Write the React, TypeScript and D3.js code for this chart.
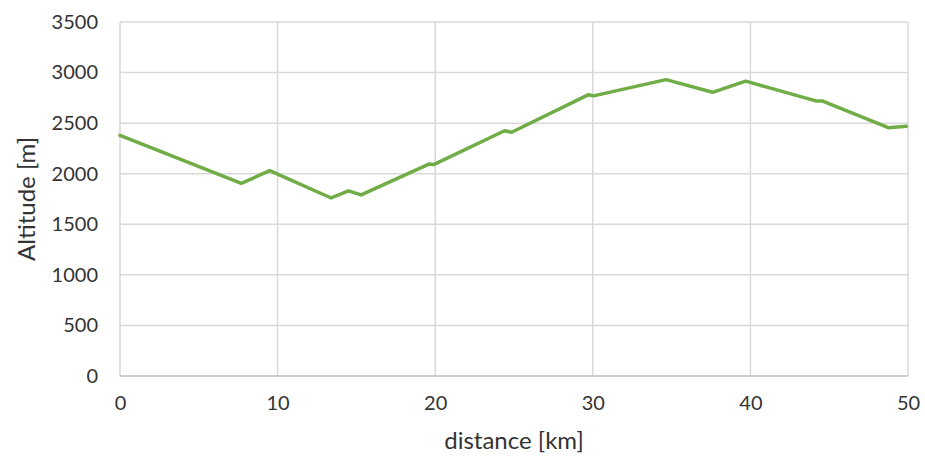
// Altitude profile — distance vs altitude, single green line over a light grid.
import { useEffect, useRef } from "react";
import * as d3 from "d3";

// track points
const DIST_KM = [0, 7.7, 9.5, 13.4, 14.5, 15.3, 19.6, 19.9, 24.4, 24.85, 29.7, 30.05, 34.65, 37.6, 39.7, 44.15, 44.55, 48.75, 49.9];
const ALT_M = [2380, 1905, 2030, 1760, 1830, 1790, 2095, 2090, 2425, 2410, 2780, 2770, 2930, 2805, 2915, 2720, 2720, 2455, 2470];

const X_TICKS = [0, 10, 20, 30, 40, 50];
const Y_TICKS = [0, 500, 1000, 1500, 2000, 2500, 3000, 3500];

const X_LABEL = "distance [km]";
const Y_LABEL = "Altitude [m]";

const W = 925;
const H = 460;
const margin = { top: 22, right: 17, bottom: 84, left: 120 };
const FONT = "Lato, 'Open Sans', sans-serif";
const INK = "#333";

export default function App() {
  const ref = useRef<SVGSVGElement>(null);

  useEffect(() => {
    const el = ref.current;
    if (!el) return;
    const svg = d3.select(el);
    svg.selectAll("*").remove();

    const innerW = W - margin.left - margin.right;
    const innerH = H - margin.top - margin.bottom;

    const x = d3.scaleLinear().domain([0, 50]).range([0, innerW]);
    const y = d3.scaleLinear().domain([0, 3500]).range([innerH, 0]);

    const g = svg.append("g").attr("transform", `translate(${margin.left},${margin.top})`);

    // grid
    g.append("g")
      .selectAll("line")
      .data(Y_TICKS.filter((t) => t > 0))
      .join("line")
      .attr("x1", 0)
      .attr("x2", innerW)
      .attr("y1", (d) => y(d))
      .attr("y2", (d) => y(d))
      .attr("stroke", "#d9d9d9")
      .attr("stroke-width", 1.5);
    g.append("g")
      .selectAll("line")
      .data(X_TICKS)
      .join("line")
      .attr("x1", (d) => x(d))
      .attr("x2", (d) => x(d))
      .attr("y1", 0)
      .attr("y2", innerH)
      .attr("stroke", "#d9d9d9")
      .attr("stroke-width", 1.5);

    // bottom axis line
    g.append("line")
      .attr("x1", 0)
      .attr("x2", innerW)
      .attr("y1", innerH)
      .attr("y2", innerH)
      .attr("stroke", "#bfbfbf")
      .attr("stroke-width", 1.5);

    // tick labels — plain integers, no thousands separator
    const yAxis = d3.axisLeft(y).tickValues(Y_TICKS).tickSize(0).tickPadding(22).tickFormat(d3.format("d"));
    const gy = g.append("g").call(yAxis);
    gy.select(".domain").remove();
    gy.selectAll("text")
      .attr("fill", INK)
      .attr("font-family", FONT)
      .attr("font-size", "20px");

    const xAxis = d3.axisBottom(x).tickValues(X_TICKS).tickSize(0).tickPadding(20).tickFormat(d3.format("d"));
    const gx = g.append("g").attr("transform", `translate(0,${innerH})`).call(xAxis);
    gx.select(".domain").remove();
    gx.selectAll("text")
      .attr("fill", INK)
      .attr("font-family", FONT)
      .attr("font-size", "20px");

    // line
    const pts = DIST_KM.map((d, i) => [d, ALT_M[i]] as [number, number]);
    const line = d3
      .line<[number, number]>()
      .x((d) => x(d[0]))
      .y((d) => y(d[1]));
    g.append("path")
      .datum(pts)
      .attr("d", line)
      .attr("fill", "none")
      .attr("stroke", "#70ad47")
      .attr("stroke-width", 3.5)
      .attr("stroke-linejoin", "round")
      .attr("stroke-linecap", "round");

    // axis titles
    svg.append("text")
      .attr("x", margin.left + innerW / 2)
      .attr("y", 449)
      .attr("text-anchor", "middle")
      .attr("fill", INK)
      .attr("font-family", FONT)
      .attr("font-size", "24px")
      .text(X_LABEL);
    svg.append("text")
      .attr("transform", `translate(35,${margin.top + innerH / 2}) rotate(-90)`)
      .attr("text-anchor", "middle")
      .attr("fill", INK)
      .attr("font-family", FONT)
      .attr("font-size", "24px")
      .text(Y_LABEL);
  }, []);

  return (
    <svg
      ref={ref}
      width={W}
      height={H}
      style={{ position: "absolute", left: 0, top: 0, background: "#fff" }}
    />
  );
}
